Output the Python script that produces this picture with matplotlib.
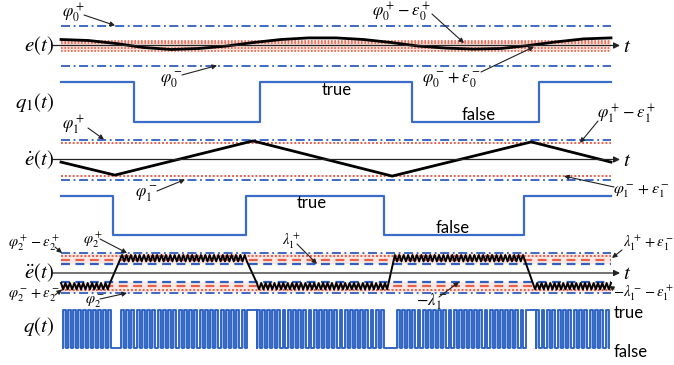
import matplotlib
matplotlib.use('Agg')
import matplotlib.pyplot as plt
import numpy as np

W, H = 674, 365
plt.rcParams['mathtext.fontset'] = 'stix'
plt.rcParams['font.family'] = ['Lato', 'DejaVu Sans']

# ------------------------------------------------------------------ data
# e(t) samples (time in arbitrary units 0..10)
e_t = [0, 0.5, 1.0, 1.5, 2.0, 2.5, 3.0, 3.5, 4.0, 4.5, 5.0, 5.5, 6.0, 6.5, 7.0,
       7.5, 8.0, 8.5, 9.0, 9.5, 10.0]
e_val = [0.30, 0.25, 0.10, -0.10, -0.20, -0.15, -0.03, 0.15, 0.30, 0.38, 0.38,
         0.30, 0.15, -0.03, -0.13, -0.18, -0.15, 0.00, 0.18, 0.33, 0.38]
phi0 = 1.0
eps0 = 0.75

q1_switch = [1.33, 3.62, 6.38, 8.69]
q1_init = 1

edot_t = [0, 0.98, 3.49, 6.02, 8.55, 10.0]
edot_val = [-0.13, -0.78, 0.93, -0.83, 0.88, -0.13]
phi1 = 1.0
eps1 = 0.17

q2_switch = [0.95, 3.36, 5.87, 8.42]
q2_init = 1

# e_ddot chattering segments
edd_seg_start = [0.0, 1.11, 3.56, 6.07, 8.58]
edd_seg_end = [0.89, 3.38, 5.93, 8.44, 10.0]
edd_seg_high = [False, True, False, True, False]
edd_high_band = (0.90, 0.58)
edd_low_band = (-0.50, -0.82)
edd_period = 0.08
phi2 = 1.0
lambda1 = 0.45
edd_red_dash = 0.65
edd_red_dot = 0.83

# q(t) pulse train
q_start, q_end = 0.04, 10.0
q_gap_start = [0.945, 3.38, 5.91, 8.45]
q_gap_end = [1.09, 3.56, 6.11, 8.64]
q_gap_level = [0, 1, 0, 1]
q_period = 0.095
q_duty = 0.55

# ------------------------------------------------------------------ layout
X0, XS = 61.0, 55.0          # pixel of t=0, pixels per time unit
fig = plt.figure(figsize=(W / 100, H / 100), dpi=100)


def panel(top, bot, zero, ppu):
    ax = fig.add_axes([0, 1 - bot / H, 1, (bot - top) / H])
    ax.set_xlim(-X0 / XS, (W - X0) / XS)
    ax.set_ylim((zero - bot) / ppu, (zero - top) / ppu)
    ax.axis('off')
    ax.patch.set_alpha(0)
    return ax


def tx(px):
    return (px - X0) / XS


axE = panel(0, 70, 45.5, 20)
axQ1 = panel(70, 128, 122, 40)
axD = panel(128, 188, 159.5, 20)
axQ2 = panel(188, 242, 235, 39)
axDD = panel(242, 302, 273, 20)
axQ = panel(302, 365, 348, 38)

ov = fig.add_axes([0, 0, 1, 1])
ov.set_xlim(0, W)
ov.set_ylim(H, 0)
ov.axis('off')
ov.patch.set_alpha(0)

BLUE = '#2f5fbf'
STEP = '#3a6cc8'
RED = '#e8604a'
PINK = '#fbd5cc'
DASHDOT = (0, (5, 2, 1, 2))
DOT = (0, (1, 1))
DASH = (0, (4, 2.5))

t_lo, t_hi = tx(61), tx(611)


def hline(ax, v, color, ls, lw=1.3):
    ax.plot([t_lo, t_hi], [v, v], color=color, ls=ls, lw=lw)


def t_axis(ax):
    ax.annotate('', xy=(tx(620), 0), xytext=(tx(53), 0),
                arrowprops=dict(arrowstyle='-|>', lw=0.9, color='#222222',
                                mutation_scale=9, shrinkA=0, shrinkB=0))


# ---- e(t)
inner0 = phi0 - eps0
axE.fill_between([t_lo, t_hi], -inner0, inner0, color=PINK, alpha=0.7, lw=0)
for v in (inner0, inner0 / 2, -inner0 / 2, -inner0):
    hline(axE, v, RED, DOT, 1.2)
hline(axE, phi0, BLUE, DASHDOT)
hline(axE, -phi0, BLUE, DASHDOT)
t_axis(axE)
axE.plot(e_t, e_val, color='black', lw=2.0)

# ---- step signals
def step_plot(ax, switches, init):
    ts = [t_lo]
    vs = [init]
    v = init
    for s in switches:
        ts += [s, s]
        vs += [v, 1 - v]
        v = 1 - v
    ts.append(t_hi)
    vs.append(v)
    ax.plot(ts, vs, color=STEP, lw=1.6)


step_plot(axQ1, q1_switch, q1_init)
step_plot(axQ2, q2_switch, q2_init)

# ---- e_dot(t)
inner1 = phi1 - eps1
hline(axD, inner1, RED, DOT, 1.4)
hline(axD, -inner1, RED, DOT, 1.4)
hline(axD, phi1, BLUE, DASHDOT)
hline(axD, -phi1, BLUE, DASHDOT)
t_axis(axD)
axD.plot(edot_t, edot_val, color='black', lw=2.0)

# ---- e_ddot(t)
axDD.fill_between([t_lo, t_hi], lambda1, phi2, color=PINK, alpha=0.5, lw=0)
axDD.fill_between([t_lo, t_hi], -phi2, -lambda1, color=PINK, alpha=0.5, lw=0)
for s in (1, -1):
    hline(axDD, s * phi2, BLUE, DASHDOT)
    hline(axDD, s * edd_red_dot, RED, DOT, 1.4)
    hline(axDD, s * edd_red_dash, RED, DASH, 1.6)
    hline(axDD, s * lambda1, BLUE, DASH, 1.6)
t_axis(axDD)
zt, zv = [], []
for a, b, hi in zip(edd_seg_start, edd_seg_end, edd_seg_high):
    top, bot = edd_high_band if hi else edd_low_band
    n = int(round((b - a) / (edd_period / 2)))
    for k in range(n + 1):
        zt.append(a + k * (b - a) / n)
        zv.append(top if k % 2 == 0 else bot)
axDD.plot(zt, zv, color='black', lw=1.4)

# ---- q(t)
seg_a = [q_start] + q_gap_end
seg_b = q_gap_start + [q_end]
pt, pv = [], []
for i, (a, b) in enumerate(zip(seg_a, seg_b)):
    n = int(round((b - a) / q_period))
    P = (b - a) / n
    for k in range(n):
        t0 = a + k * P
        pt += [t0, t0, t0 + q_duty * P, t0 + q_duty * P]
        pv += [0, 1, 1, 0]
        axQ.fill_between([t0, t0 + q_duty * P], 0, 1, color='#9ab6e2', lw=0)
    if i < len(q_gap_start):
        g = q_gap_level[i]
        if g == 1:
            pt += [b, b, q_gap_end[i], q_gap_end[i]]
            pv += [0, 1, 1, 0]
        else:
            pt += [q_gap_end[i]]
            pv += [0]
axQ.plot(pt, pv, color='#2d62c4', lw=1.35)

# ------------------------------------------------------------------ texts
LBL = 15
ANN = 12
SMALL = 10.5
for s, y in [(r'$e(t)$', 46), (r'$q_1(t)$', 103), (r'$\dot{e}(t)$', 160),
             (r'$\ddot{e}(t)$', 273), (r'$q(t)$', 327)]:
    ov.text(54, y, s, fontsize=LBL, ha='right', va='center')
for y in (46, 160, 273):
    ov.text(623, y, r'$t$', fontsize=LBL, ha='left', va='center')

for s, x, y in [('true', 322, 90), ('false', 462, 115), ('true', 297, 203),
                ('false', 436, 228), ('true', 614, 313), ('false', 614, 352)]:
    ov.text(x, y, s, fontsize=12, ha='left', va='center')

ann = [
    (r'$\varphi_0^+$', 62, 13, ANN, (84, 15), axE, tx(115), phi0),
    (r'$\varphi_0^-$', 160, 80, ANN, (182, 75), axE, tx(217), -phi0),
    (r'$\varphi_0^+-\varepsilon_0^+$', 372, 12, ANN, (432, 14), axE, tx(464), inner0 / 2),
    (r'$\varphi_0^-+\varepsilon_0^-$', 422, 80, ANN, (481, 72), axE, tx(534), -inner0 / 4),
    (r'$\varphi_1^+$', 62, 125, ANN, (88, 128), axD, tx(104), phi1),
    (r'$\varphi_1^-$', 135, 194, ANN, (157, 191), axD, tx(185), -phi1),
    (r'$\varphi_1^+-\varepsilon_1^+$', 597, 114, ANN, (598, 121), axD, tx(580), inner1),
    (r'$\varphi_1^-+\varepsilon_1^-$', 613, 191, 11.5, (614, 187), axD, tx(564), -inner1),
    (r'$\varphi_2^+-\varepsilon_2^+$', 8, 243, SMALL, (55, 247), axDD, tx(62), phi2),
    (r'$\varphi_2^+$', 83, 240, SMALL, (100, 239), axDD, tx(127), phi2),
    (r'$\lambda_1^+$', 282, 241, SMALL, (297, 244), axDD, tx(317), lambda1),
    (r'$\varphi_2^-+\varepsilon_2^-$', 8, 296, SMALL, (55, 295), axDD, tx(62), -edd_red_dot),
    (r'$\varphi_2^-$', 85, 302, SMALL, (100, 299), axDD, tx(127), -phi2),
    (r'$\lambda_1^++\varepsilon_1^-$', 623, 243, 10.5, (622, 250), axDD, tx(612), edd_red_dash + 0.1),
    (r'$-\lambda_1^-$', 416, 302, ANN, (439, 297), axDD, tx(459), -lambda1),
    (r'$-\lambda_1^--\varepsilon_1^+$', 613, 293, 10.5, (614, 289), axDD, tx(609), -edd_red_dash),
]
for s, x, y, fs, start, ax, t_target, v_target in ann:
    ov.text(x, y, s, fontsize=fs, ha='left', va='center')
    ov.annotate('', xy=(t_target, v_target), xycoords=ax.transData,
                xytext=start, textcoords=ov.transData,
                arrowprops=dict(arrowstyle='-|>', lw=0.8, color='#222222',
                                mutation_scale=7, shrinkA=0, shrinkB=0))

fig.savefig('out.png', dpi=100)
